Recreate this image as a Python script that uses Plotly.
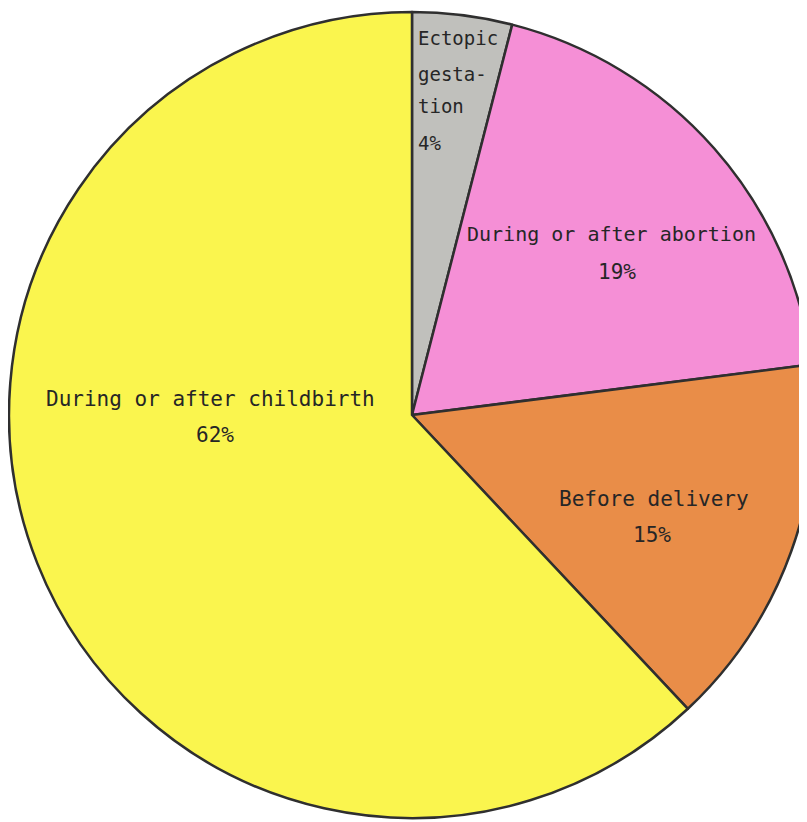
import plotly.graph_objects as go

# shares of maternal deaths, clockwise from the top
causes = ['Ectopic gestation', 'During or after abortion', 'Before delivery', 'During or after childbirth']
percent = [4, 19, 15, 62]
colores = ['#c0c0bc', '#f58fd6', '#e98d48', '#faf54e']

W, H = 807, 822
OFF = 8  # page margin around the plot div

fig = go.Figure(go.Pie(
    labels=causes,
    values=percent,
    sort=False,
    direction='clockwise',
    rotation=0,
    textinfo='none',
    marker=dict(colors=colores, line=dict(color='#2f2f2f', width=2.5)),
    domain=dict(x=[1 / W, 1], y=[1 - 810 / H, 1 - 4 / H]),
    showlegend=False,
))

fonte = 'DejaVu Sans Mono'
cor_txt = '#262626'

def rotulo(texto, x, y, size=21, align='center'):
    # x, y in page pixels
    fig.add_annotation(
        text=texto, x=(x - OFF) / W, y=1 - (y - OFF) / H, xref='paper', yref='paper',
        showarrow=False, xanchor=align, yanchor='middle',
        font=dict(family=fonte, size=size, color=cor_txt),
    )

# Ectopic gestation (stacked, left aligned in the thin slice)
for linha, yy in zip(['Ectopic', 'gesta-', 'tion', f'{percent[0]}%'], [38, 74, 106, 143]):
    rotulo(linha, 416, yy, size=19, align='left')

rotulo('During or after abortion', 611, 234, size=20)
rotulo(f'{percent[1]}%', 617, 272)
rotulo('Before delivery', 654, 499)
rotulo(f'{percent[2]}%', 652, 535)
rotulo('During or after childbirth', 210, 399)
rotulo(f'{percent[3]}%', 215, 435)

fig.update_layout(
    width=W, height=H,
    margin=dict(l=0, r=0, t=0, b=0),
    paper_bgcolor='white',
    plot_bgcolor='white',
)

fig.write_html('out.html')
